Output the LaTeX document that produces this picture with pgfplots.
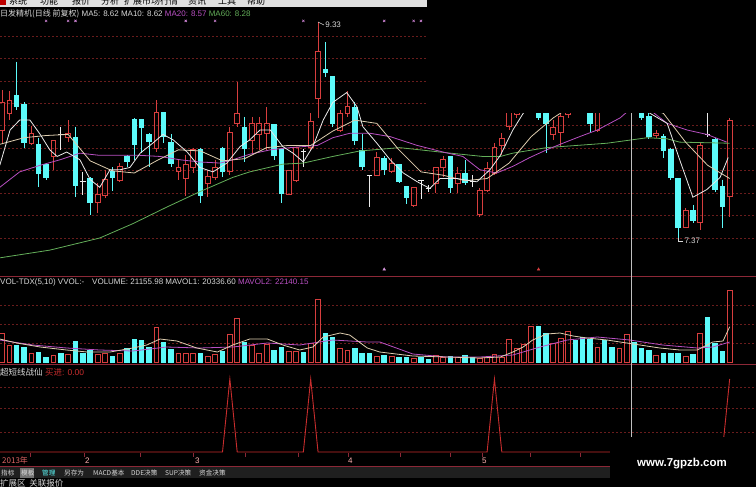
\documentclass[border=0pt]{standalone}
\usepackage{pgfplots}
\usepackage{pgfplotstable}
\pgfplotsset{compat=1.18}
\usepackage{fontspec}
\setmainfont{Liberation Sans}
\newfontfamily\cjk{Noto Sans CJK SC}

\definecolor{upred}{RGB}{215,62,62}
\definecolor{dncyan}{RGB}{92,250,250}
\definecolor{gridred}{RGB}{105,28,28}
\definecolor{ma5}{RGB}{235,235,235}
\definecolor{ma10}{RGB}{222,205,175}
\definecolor{ma20}{RGB}{185,80,195}
\definecolor{ma60}{RGB}{100,175,90}
\definecolor{txt}{RGB}{215,215,215}
\definecolor{framered}{RGB}{140,40,55}
\definecolor{sigred}{RGB}{200,45,45}

% daily bars: index, open, high, low, close, volume
\pgfplotstableread{
i o h l c v
0 8.35 8.71 8.23 8.60 30300
1 8.50 8.70 8.44 8.62 18050
2 8.67 8.97 8.53 8.56 18050
3 8.59 8.60 8.19 8.23 16000
4 8.23 8.39 8.21 8.32 9900
5 8.22 8.28 7.83 7.95 10900
6 8.04 8.05 7.90 7.91 5800
7 8.11 8.26 7.99 8.26 7850
8 8.31 8.38 8.17 8.31 9900
9 8.28 8.44 8.24 8.32 8900
10 8.29 8.38 7.74 7.84 22100
11 7.88 7.97 7.76 7.88 9900
12 7.91 7.92 7.58 7.69 12950
13 7.69 7.87 7.60 7.77 8900
14 7.76 7.99 7.73 7.90 9900
15 7.98 8.01 7.80 7.91 6850
16 7.89 8.05 7.88 8.02 9900
17 8.11 8.12 8.01 8.06 15000
18 8.45 8.46 8.08 8.21 24200
19 8.45 8.45 8.14 8.37 23150
20 8.31 8.32 8.01 8.24 16000
21 8.18 8.62 8.15 8.51 36400
22 8.51 8.51 8.23 8.29 21100
23 8.24 8.31 8.01 8.04 14000
24 7.97 8.08 7.90 8.01 9900
25 7.91 8.12 7.75 8.04 9900
26 8.01 8.19 7.96 8.17 9900
27 8.18 8.19 7.69 7.75 9900
28 7.87 7.99 7.74 7.93 6850
29 7.92 8.08 7.90 8.01 8900
30 8.19 8.20 7.92 7.97 11950
31 7.97 8.38 7.94 8.33 29300
32 8.41 8.79 8.38 8.50 45600
33 8.38 8.47 8.06 8.18 21100
34 8.26 8.47 8.14 8.41 18050
35 8.31 8.47 8.17 8.41 9900
36 8.32 8.56 8.17 8.41 19100
37 8.40 8.40 8.08 8.11 12950
38 8.18 8.19 7.69 7.77 16000
39 7.77 7.99 7.76 7.98 11950
40 7.89 8.20 7.88 8.19 11950
41 8.16 8.18 8.01 8.16 10900
42 8.19 8.50 8.17 8.43 20100
43 8.64 9.33 8.46 9.06 65000
44 8.90 9.15 8.83 8.87 30300
45 8.84 8.84 8.38 8.40 26200
46 8.35 8.53 8.33 8.50 15000
47 8.50 8.70 8.47 8.56 12950
48 8.56 8.60 8.21 8.25 15000
49 8.17 8.31 7.99 8.01 9900
50 7.94 7.94 7.65 7.94 9900
51 7.94 8.15 7.93 8.10 6850
52 8.10 8.11 7.94 7.99 7850
53 7.97 8.10 7.96 8.05 6850
54 8.04 8.04 7.87 7.88 5800
55 7.84 7.84 7.68 7.73 5800
56 7.67 7.83 7.65 7.83 4800
57 7.89 7.90 7.72 7.89 5800
58 7.82 7.85 7.79 7.82 3800
59 7.87 8.01 7.78 8.01 7850
60 8.01 8.11 7.92 8.08 5800
61 8.11 8.11 7.78 7.82 6850
62 7.87 8.01 7.78 7.96 5800
63 7.96 8.08 7.85 7.87 7850
64 7.88 7.94 7.83 7.88 5800
65 7.58 7.82 7.56 7.80 4800
66 7.80 8.06 7.79 8.00 5800
67 7.96 8.23 7.94 8.19 8900
68 8.21 8.32 8.12 8.27 5800
69 8.38 8.71 8.35 8.62 24200
70 8.49 8.73 8.46 8.67 15000
71 8.62 8.80 8.58 8.76 19100
72 8.70 8.94 8.67 8.88 37450
73 8.82 8.85 8.44 8.46 37450
74 8.53 8.62 8.14 8.40 30300
75 8.31 8.44 8.26 8.37 20100
76 8.33 8.62 8.20 8.47 25200
77 8.49 8.71 8.46 8.67 32350
78 8.71 8.76 8.53 8.58 23150
79 8.62 8.67 8.51 8.53 26200
80 8.62 8.67 8.33 8.40 24200
81 8.35 8.58 8.33 8.53 16000
82 8.62 8.67 8.51 8.55 23150
83 8.62 8.67 8.51 8.53 16000
84 8.55 8.76 8.53 8.71 15000
85 8.67 8.89 8.64 8.85 29300
86 8.80 8.85 8.58 8.62 21156
87 8.62 8.67 8.44 8.46 15000
88 8.48 8.50 8.27 8.29 12950
89 8.30 8.35 8.28 8.32 7850
90 8.30 8.31 8.10 8.16 9900
91 8.18 8.19 7.90 7.91 9900
92 7.91 7.91 7.37 7.46 9900
93 7.47 7.64 7.46 7.62 6850
94 7.62 7.67 7.51 7.52 8900
95 7.51 8.23 7.44 8.21 30300
96 8.31 8.62 8.29 8.31 46600
97 8.27 8.28 7.79 7.81 20100
98 7.84 7.90 7.46 7.65 11950
99 7.75 8.46 7.56 8.44 74150
}\kline

% one candlestick: hollow red when up, solid cyan when down, white cross when flat
\newcommand\drawcandle[1]{%
  \pgfplotstablegetelem{#1}{o}\of\kline\let\co\pgfplotsretval
  \pgfplotstablegetelem{#1}{h}\of\kline\let\ch\pgfplotsretval
  \pgfplotstablegetelem{#1}{l}\of\kline\let\cl\pgfplotsretval
  \pgfplotstablegetelem{#1}{c}\of\kline\let\cc\pgfplotsretval
  \pgfmathsetmacro\xa{#1-0.33}\pgfmathsetmacro\xb{#1+0.33}%
  \pgfmathsetmacro\xc{#1-0.37}\pgfmathsetmacro\xd{#1+0.37}%
  \ifdim\cc pt>\co pt
    \edef\tmp{\noexpand\draw[upred,line width=0.8bp] (axis cs:#1,\ch) -- (axis cs:#1,\cc)
      (axis cs:#1,\co) -- (axis cs:#1,\cl)
      (axis cs:\xa,\co) rectangle (axis cs:\xb,\cc);}%
  \else\ifdim\cc pt<\co pt
    \edef\tmp{\noexpand\draw[dncyan,line width=0.8bp] (axis cs:#1,\ch) -- (axis cs:#1,\cl);
      \noexpand\fill[dncyan] (axis cs:\xc,\co) rectangle (axis cs:\xd,\cc);}%
  \else
    \edef\tmp{\noexpand\draw[ma5,line width=0.8bp] (axis cs:#1,\ch) -- (axis cs:#1,\cl)
      (axis cs:\xc,\co) -- (axis cs:\xd,\co);}%
  \fi\fi
  \tmp}

% one volume bar, coloured like its candle
\newcommand\drawvol[1]{%
  \pgfplotstablegetelem{#1}{o}\of\kline\let\co\pgfplotsretval
  \pgfplotstablegetelem{#1}{c}\of\kline\let\cc\pgfplotsretval
  \pgfplotstablegetelem{#1}{v}\of\kline\let\cv\pgfplotsretval
  \pgfmathsetmacro\xa{#1-0.33}\pgfmathsetmacro\xb{#1+0.33}%
  \pgfmathsetmacro\xc{#1-0.37}\pgfmathsetmacro\xd{#1+0.37}%
  \ifdim\cc pt>\co pt
    \edef\tmp{\noexpand\draw[upred,line width=0.8bp] (axis cs:\xa,0) rectangle (axis cs:\xb,\cv);}%
  \else
    \edef\tmp{\noexpand\fill[dncyan] (axis cs:\xc,0) rectangle (axis cs:\xd,\cv);}%
  \fi
  \tmp}

\pgfplotsset{panel/.style={scale only axis, width=756bp,
    xmin=-0.272, xmax=102.585,
    axis line style={draw=none}, xtick=\empty, yticklabels={},
    major tick length=0pt, ymajorgrids,
    grid style={gridred, line width=0.7bp, dash pattern=on 2bp off 2bp},
    anchor=south west}}

\newcommand\lab[1]{\fontsize{8bp}{10bp}\selectfont #1}

\begin{document}
\begin{tikzpicture}
\useasboundingbox (0,0) rectangle (756bp,-487bp);
\fill[black] (0,0) rectangle (756bp,-487bp);

% ---------- price panel ----------
\begin{axis}[panel, at={(0bp,-272bp)}, height=254bp,
    ymin=7.0615, ymax=9.3663,
    ytick={7.370,7.574,7.777,7.981,8.184,8.388,8.591,8.795,8.998,9.202}]
\pgfplotsinvokeforeach{0,...,99}{\drawcandle{#1}}
% MA60
\addplot[ma60, line width=0.8bp] coordinates {(-0.3,7.19) (6.5,7.26) (13.3,7.37) (17.8,7.50) (22.4,7.65) (26.9,7.79) (31.4,7.92) (33.7,7.97) (38.2,8.04) (41.0,8.05) (45.0,8.11) (48.7,8.16) (54.1,8.19) (61.0,8.14) (65.4,8.11) (67.8,8.11) (69.5,8.14) (74.1,8.19) (82.3,8.23) (87.8,8.28) (90.5,8.27) (92.2,8.24) (99.0,8.23)};
% MA20
\addplot[ma20, line width=0.8bp] coordinates {(-0.3,7.83) (2.4,7.97) (5.2,8.03) (7.9,8.08) (10.6,8.14) (13.3,8.12) (16.1,8.12) (18.8,8.12) (21.5,8.11) (24.2,8.08) (26.9,8.06) (29.7,8.05) (31.4,8.08) (33.7,8.13) (36.5,8.17) (39.2,8.19) (42.9,8.21) (45.0,8.28) (47.3,8.32) (50.1,8.32) (52.8,8.29) (56.5,8.21) (60.0,8.15) (62.7,8.11) (65.0,7.99) (67.3,7.96) (69.5,8.02) (71.8,8.10) (74.1,8.17) (76.3,8.23) (78.6,8.29) (81.0,8.35) (84.1,8.46) (86.0,8.57) (88.2,8.53) (90.5,8.41) (93.2,8.35) (95.9,8.31) (98.6,8.24)};
% MA10
\addplot[ma10, line width=0.8bp] coordinates {(-0.3,8.22) (3,8.28) (6,8.30) (9,8.31) (12,8.07) (15,7.98) (18,7.96) (21,8.07) (24,8.17) (27,8.16) (30,8.07) (33,8.09) (36,8.19) (39,8.21) (42,8.21) (45,8.34) (48,8.44) (51,8.41) (54,8.17) (57,7.97) (60,7.94) (63,7.89) (66,7.91) (69,8.05) (72,8.29) (75,8.46) (78,8.59) (81,8.53) (84,8.53) (87,8.58) (90,8.50) (93,8.24) (96,8.03) (99,7.91)};
% MA5
\addplot[ma5, line width=0.8bp] coordinates {(-0.3,8.03) (1.1,8.35) (2.4,8.44) (3.8,8.44) (5.2,8.31) (6.5,8.17) (7.5,8.11) (8.8,8.15) (10.6,8.08) (12.0,7.90) (13.3,7.83) (14.7,7.99) (16.1,7.99) (17.4,8.01) (18.8,8.14) (20.5,8.23) (21.9,8.31) (23.3,8.26) (25.2,8.15) (26.9,8.01) (28.7,7.97) (30.6,8.05) (32.4,8.20) (33.7,8.26) (35.1,8.35) (36.5,8.35) (38.2,8.20) (39.6,8.14) (41.0,8.06) (42.3,8.20) (43.7,8.44) (45.0,8.60) (46.9,8.69) (48.3,8.56) (49.1,8.38) (51.0,8.23) (52.8,8.08) (54.6,7.96) (56.5,7.88) (58.2,7.82) (59.6,7.91) (61.9,7.91) (64.6,7.88) (66.4,7.99) (67.8,8.12) (69.5,8.35) (70.9,8.50) (73.2,8.67) (75.9,8.71) (80.0,8.67) (82.7,8.64) (86.0,8.62) (88.2,8.50) (90.5,8.41) (92.2,8.08) (94.0,7.74) (95.9,7.81) (97.7,7.92) (98.8,8.10)};
% signal crosses along the top edge
\addplot[only marks, mark=x, mark size=1.6bp, color=ma20!70!white, line width=0.6bp] coordinates {(6,9.34) (9,9.34) (10,9.34) (25,9.34) (29,9.34) (41,9.34) (52,9.34) (56,9.34) (57,9.34)};
% small markers along the bottom edge
\addplot[only marks, mark=triangle*, mark size=1.6bp, color=ma20!60!white] coordinates {(52,7.085)};
\addplot[only marks, mark=triangle*, mark size=1.6bp, color=upred] coordinates {(73,7.085)};
% high and low annotations
\draw[txt, line width=0.6bp] (axis cs:43,9.33) -- ([xshift=6bp,yshift=-3bp]axis cs:43,9.33)
  node[anchor=west, inner sep=1bp, font=\lab{}] {9.33};
\draw[txt, line width=0.6bp] (axis cs:92,7.37) -- ([yshift=-3bp]axis cs:92,7.37)
  -- ([xshift=5bp,yshift=-3bp]axis cs:92,7.37)
  node[anchor=west, inner sep=1bp, font=\lab{}] {7.37};
\end{axis}

% ---------- volume panel ----------
\begin{axis}[panel, at={(0bp,-363bp)}, height=86bp,
    ymin=-306, ymax=87414, ytick={20094,39474,58854}]
\pgfplotsinvokeforeach{0,...,99}{\drawvol{#1}}
\addplot[ma20, line width=0.8bp] coordinates {(-0.3,23150) (4.2,18050) (8.8,15000) (13.3,12950) (17.8,11930) (22.4,16000) (26.9,15000) (31.4,16000) (36.1,20100) (40.5,18050) (45.0,23150) (49.7,21110) (51.4,21110) (55.9,8870) (60.5,5800) (65.0,5800) (69.5,7850) (73.2,16000) (76.9,23150) (81.0,26210) (85.4,23150) (89.9,18050) (94.6,15000) (96.7,16000) (99.0,21110)};
\addplot[ma10, line width=0.8bp] coordinates {(-0.3,24170) (2.0,20100) (5.2,16000) (8.8,12950) (11.6,10900) (14.7,10900) (17.8,15000) (19.7,18050) (21.5,24170) (23.8,22130) (26.5,15000) (29.3,10900) (31.4,18050) (33.7,24170) (36.1,24170) (38.2,18050) (40.5,12950) (42.3,16000) (43.7,26200) (46.0,30300) (47.3,28250) (49.7,15000) (51.4,10900) (55.9,6830) (60.5,5800) (65.0,4800) (67.8,5800) (69.5,10900) (70.9,16000) (72.2,23150) (74.1,29270) (75.9,30300) (77.7,27230) (79.6,25190) (82.3,23150) (85.0,20100) (86.8,18050) (89.5,15000) (92.2,12950) (94.6,12950) (95.9,18050) (96.7,21110) (98.1,22130) (99.0,36620)};
\end{axis}

% ---------- signal panel ----------
\begin{axis}[panel, at={(0bp,-456bp)}, height=90bp,
    ymin=-5.48, ymax=117.8, ytick={27.4,60.3,89}]
\addplot[sigred, line width=0.9bp] coordinates {(-0.3,0) (30,0) (31,100) (32,0) (41,0) (42,100) (43,0) (66,0) (67,100) (68,0) (98,0) (99,100)};
\end{axis}

\begin{scope}[x=1bp, y=-1bp]
% pop-up area left blank over the upper right of the price panel
\fill[black] (427,0) rectangle (756,113);
% menu bar
\begin{scope}
\clip (0,0) rectangle (427,7);
\fill[black!12] (0,0) rectangle (427,7);
\fill[red!75!black] (0,0) rectangle (6,5);
\foreach \x/\t in {18/系统, 49/功能, 81/报价, 110/分析, 151/扩展市场行情, 197/资讯, 227/工具, 256/帮助}
  \node[font={\cjk\fontsize{9bp}{9bp}\selectfont}, text=black, inner sep=0] at (\x,1.2) {\t};
\end{scope}
% panel titles
\node[anchor=west, inner sep=0, text=txt, font=\lab{}] at (0,14)
  {{\cjk 日发精机(日线 前复权)} MA5: 8.62 MA10: 8.62 \textcolor{ma20}{MA20: 8.57} \textcolor{ma60}{MA60: 8.28}};
\draw[framered, line width=0.8bp] (0,276) -- (756,276);
\node[anchor=west, inner sep=0, text=txt, font=\lab{}] at (0,282.5)
  {VOL-TDX(5,10) VVOL:-\quad VOLUME: 21155.98 MAVOL1: 20336.60 \textcolor{ma20}{MAVOL2: 22140.15}};
\draw[framered, line width=0.8bp] (0,364) -- (756,364);
\node[anchor=west, inner sep=0, text=txt, font={\fontsize{8.5bp}{10bp}\selectfont}] at (0,372.5)
  {{\cjk 超短线战仙} \textcolor{sigred}{{\cjk 买进}: 0.00}};
% cursor line
\draw[black!25!white, line width=0.9bp] (631,113) -- (631,437);
% date strip
\draw[framered, line width=0.8bp] (0,466.5) -- (610,466.5);
\foreach \x in {30,84,140,193,245,298,348,400,450,482,530,580}
  \draw[framered, line width=0.7bp] (\x,453) -- (\x,457);
\node[anchor=west, inner sep=0, text=upred!80!white, font={\cjk\fontsize{8bp}{9bp}\selectfont}] at (2,460.5) {2013年};
\foreach \x/\m in {85/2,195/3,348/4,482/5}
  \node[anchor=west, inner sep=0, text=red!30!white, font={\fontsize{8bp}{9bp}\selectfont}] at (\x,460.5) {\m};
% tool bar
\fill[black!88!white] (0,467) rectangle (610,478);
\fill[black!55!white] (20,467.5) rectangle (34,477.5);
\foreach \x/\t/\c in {1/指标/txt, 21/模板/txt, 42/管理/dncyan, 64/另存为/txt, 93/MACD基本/txt, 131/DDE决策/txt, 165/SUP决策/txt, 199/资金决策/txt}
  \node[anchor=west, inner sep=0, text=\c, font={\cjk\fontsize{6.6bp}{7bp}\selectfont}] at (\x,472.5) {\t};
\node[anchor=west, inner sep=0, text=txt, font={\cjk\fontsize{8.5bp}{9bp}\selectfont}] at (0,483.5) {扩展区\ \ 关联报价};
% site mark
\fill[black] (610,437) rectangle (756,487);
\node[text=white, font={\bfseries\fontsize{11.5bp}{12bp}\selectfont}] at (682,463.5) {www.7gpzb.com};
\end{scope}
\end{tikzpicture}
\end{document}
